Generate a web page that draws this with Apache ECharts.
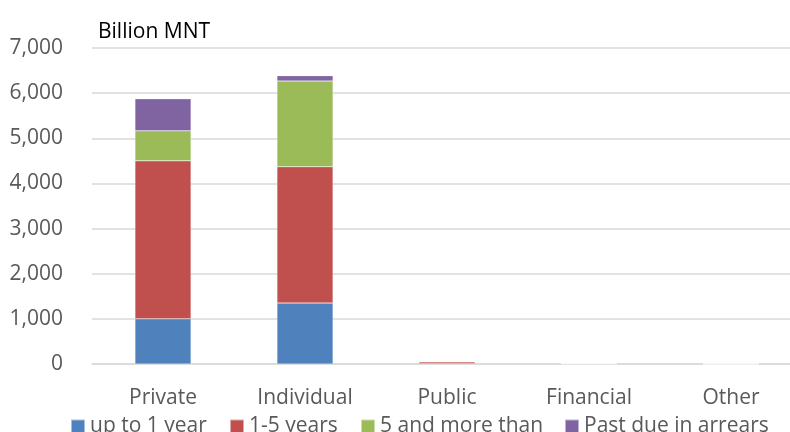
<!DOCTYPE html>
<html>
<head>
<meta charset="utf-8">
<script src="https://cdn.jsdelivr.net/npm/echarts@6/dist/echarts.min.js"></script>
<style>
  html, body { margin: 0; padding: 0; background: #fff; overflow: hidden; }
  #chart { width: 810px; height: 432px; }
</style>
</head>
<body>
<div id="chart"></div>
<script>
// Loans by borrower sector and maturity, billion MNT
const categories = ['Private', 'Individual', 'Public', 'Financial', 'Other'];
const seriesNames = ['up to 1 year', '1-5 years', '5 and more than', 'Past due in arrears'];
const upTo1Year = [1000, 1350, 8, 4, 2];
const oneToFive = [3500, 3020, 40, 6, 2];
const fiveAndMore = [665, 1900, 2, 2, 1];
const pastDue = [710, 118, 2, 10, 1];
const yTicks = [0, 1000, 2000, 3000, 4000, 5000, 6000, 7000];

const colors = ['#4F81BD', '#C0504D', '#9BBB59', '#8064A2'];
const font = 'Open Sans';
const valueSets = [upTo1Year, oneToFive, fiveAndMore, pastDue];
const legendLeft = [70, 229, 360, 564];

// the plot area runs slightly past the right edge of the visible page
const chart = echarts.init(document.getElementById('chart'), null, { renderer: 'canvas' });

chart.setOption({
  animation: false,
  color: colors,
  title: {
    text: 'Billion MNT',
    left: 98, top: 22, padding: 0,
    textStyle: { fontFamily: font, fontSize: 21, fontWeight: 'normal', color: '#000' }
  },
  legend: seriesNames.map((n, i) => ({
    data: [n],
    left: legendLeft[i], top: 416, padding: 0,
    icon: 'rect', itemWidth: 14, itemHeight: 14, itemGap: 0,
    textStyle: { fontFamily: font, fontSize: 21, color: '#595959' },
    selectedMode: false
  })),
  grid: { left: 92, top: 48, right: 8, height: 316, containLabel: false },
  xAxis: {
    type: 'category',
    data: categories,
    axisLine: { show: true, lineStyle: { color: '#d9d9d9', width: 1.5 } },
    axisTick: { show: false },
    axisLabel: { fontFamily: font, fontSize: 21, color: '#595959', margin: 24 }
  },
  yAxis: {
    type: 'value',
    min: yTicks[0], max: yTicks[yTicks.length - 1], interval: 1000,
    axisLine: { show: false },
    axisTick: { show: false },
    splitLine: { lineStyle: { color: '#d9d9d9', width: 1.5 } },
    axisLabel: {
      fontFamily: font, fontSize: 21, color: '#595959', margin: 29,
      formatter: v => v.toLocaleString('en-US')
    }
  },
  series: seriesNames.map((n, i) => ({
    name: n,
    type: 'bar',
    stack: 'total',
    barWidth: '39.5%',
    data: valueSets[i],
    itemStyle: { color: colors[i], borderColor: 'rgba(255,255,255,0.5)', borderWidth: 0.5 }
  }))
});
</script>
</body>
</html>
